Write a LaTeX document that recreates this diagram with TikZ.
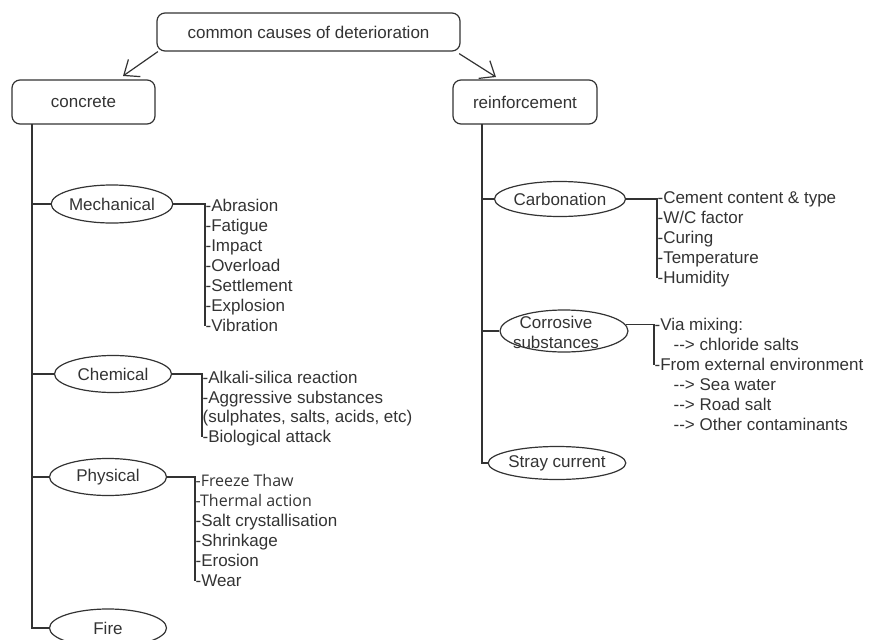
\documentclass[tikz,border=0pt]{standalone}
\usepackage{fontspec}
\setmainfont{Liberation Sans}
\newfontfamily\osans{Open Sans}
\usetikzlibrary{shapes.geometric,arrows.meta}
\definecolor{ln}{HTML}{333333}
\definecolor{tx}{HTML}{333333}
\begin{document}
\begin{tikzpicture}[x=1pt,y=-1pt, line width=1.2pt, draw=ln,
  every node/.style={text=tx},
  font=\fontsize{17}{20}\selectfont,
  rbox/.style={draw=ln, rounded corners=8pt, inner sep=0pt},
  ell/.style={draw=ln, ellipse, inner sep=0pt},
  item/.style={anchor=base west, inner sep=0pt},
  os/.style={font=\osans\fontsize{16}{20}\selectfont},
  arr/.style={-{Straight Barb[length=13pt,width=21pt]}},
]
\useasboundingbox (0,0) rectangle (871,640);
\begin{scope}
\clip (0,0) rectangle (871,640);
% top level boxes
\node[rbox, minimum width=303pt, minimum height=38pt] (top) at (308.5,32) {common causes of deterioration};
\node[rbox, minimum width=143pt, minimum height=44pt] (concrete) at (83.5,102) {concrete};
\node[rbox, minimum width=144pt, minimum height=44pt] (reinf) at (525,102) {reinforcement};
\coordinate (ca) at (123,76);
\coordinate (ra) at (496,77);
\draw[arr] ([xshift=1.5pt]top.south west) -- (ca);
\draw[arr] ([xshift=-1.5pt,yshift=-2pt]top.south east) -- (ra);

% concrete branch
\coordinate (cv) at (32,124);
\node[ell, minimum width=119pt, minimum height=38pt] (mech) at (112,204) {Mechanical};
\node[ell, minimum width=117pt, minimum height=37pt] (chem) at (113,374) {Chemical};
\node[ell, minimum width=117pt, minimum height=37pt] (phys) at (108,477) {Physical};
\node[ell, minimum width=117pt, minimum height=38pt] (fire) at (108,628) {Fire};
\draw (cv) |- (fire.west);
\draw (cv |- mech) -- (mech.west);
\draw (cv |- chem) -- (chem.west);
\draw (cv |- phys) -- (phys.west);

% mechanical items
\node[item] (m1) at (205,211) {-Abrasion};
\node[item] (m2) at (205,231) {-Fatigue};
\node[item] (m3) at (205,251) {-Impact};
\node[item] (m4) at (205,271) {-Overload};
\node[item] (m5) at (205,291) {-Settlement};
\node[item] (m6) at (205,311) {-Explosion};
\node[item] (m7) at (205,331) {-Vibration};
\draw (mech.east) -- (mech.east -| m1.base west) -- ([yshift=5pt]m7.base west);

% chemical items
\node[item] (c1) at (202,383) {-Alkali-silica reaction};
\node[item] (c2) at (202,403) {-Aggressive substances};
\node[item] (c3) at (202,422) {(sulphates, salts, acids, etc)};
\node[item] (c4) at (202,442) {-Biological attack};
\draw (chem.east) -- (chem.east -| c1.base west) -- ([yshift=5pt]c4.base west);

% physical items
\node[item, os] (p1) at (195,486) {-Freeze Thaw};
\node[item, os] (p2) at (195,506) {-Thermal action};
\node[item] (p3) at (195,526) {-Salt crystallisation};
\node[item] (p4) at (195,546) {-Shrinkage};
\node[item] (p5) at (195,566) {-Erosion};
\node[item] (p6) at (195,586) {-Wear};
\draw (phys.east) -- (phys.east -| p1.base west) -- ([yshift=5pt]p6.base west);

% reinforcement branch
\coordinate (rv) at (482,124);
\node[ell, minimum width=119pt, minimum height=35pt] (carb) at (560,199) {Carbonation};
\node[ell, minimum width=128pt, minimum height=42pt] (corr) at (564,331) {};
\node[inner sep=0pt, align=center] (corrt) at (556,332) {Corrosive\\substances};
\node[ell, minimum width=119pt, minimum height=33pt] (stray) at (557,463) {Stray current};
\draw (rv) |- (stray.west);
\draw (rv |- carb) -- (carb.west);
\draw (rv |- corr) -- (corr.west);

% carbonation items
\node[item] (k1) at (657,203) {-Cement content \& type};
\node[item] (k2) at (657,223) {-W/C factor};
\node[item] (k3) at (657,243) {-Curing};
\node[item] (k4) at (657,263) {-Temperature};
\node[item] (k5) at (657,283) {-Humidity};
\draw (carb.east) -- (carb.east -| k1.base west) -- ([yshift=5pt]k5.base west);

% corrosive items
\node[item] (r1) at (654,330) {-Via mixing:};
\node[item] (r2) at (673,350) {-{}-> chloride salts};
\node[item] (r3) at (654,370) {-From external environment};
\node[item] (r4) at (673,390) {-{}-> Sea water};
\node[item] (r5) at (673,410) {-{}-> Road salt};
\node[item] (r6) at (673,430) {-{}-> Other contaminants};
\draw (corr.6.7) -- (corr.6.7 -| r1.base west) -- ([yshift=5pt]r3.base west);
\end{scope}
\end{tikzpicture}
\end{document}
